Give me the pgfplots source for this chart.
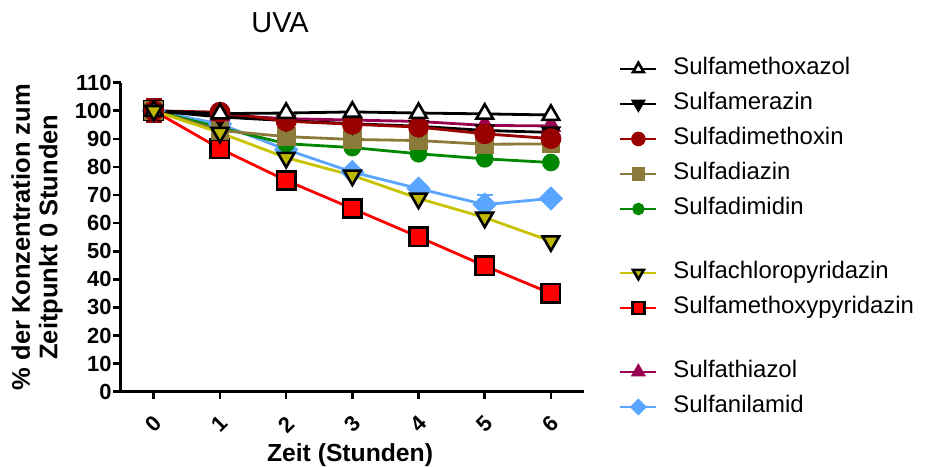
\documentclass[border=0pt]{standalone}
\usepackage{fontspec}
\setmainfont{Liberation Sans}
\usepackage{pgfplots}
\pgfplotsset{compat=1.18}
\usepackage{pgfplotstable}

\definecolor{dkred}{RGB}{153,0,0}
\definecolor{sdzolive}{RGB}{140,122,58}
\definecolor{sdmgreen}{RGB}{0,135,0}
\definecolor{scpline}{RGB}{200,195,0}
\definecolor{scpfill}{RGB}{190,185,0}
\definecolor{smpred}{RGB}{255,0,0}
\definecolor{stzpurple}{RGB}{153,0,80}
\definecolor{sanblue}{RGB}{90,165,255}

% x = Zeit (h), y = % der Ausgangskonzentration, e = Fehler
\pgfplotstableread{
x y e
0 100 0
1 99.0 0
2 99.2 0
3 99.6 0
4 99.2 0
5 98.9 0
6 98.5 0
}\tabSMX
\pgfplotstableread{
x y e
0 100 0
1 97.8 0
2 96.5 0
3 95.4 0
4 94.5 0
5 93.0 0
6 92.3 0
}\tabSMR
\pgfplotstableread{
x y e
0 100 4.0
1 99.5 0
2 96.3 0
3 95.2 0
4 94.2 0
5 91.8 0
6 90.1 0
}\tabSDM
\pgfplotstableread{
x y e
0 100 0
1 93.0 0
2 90.8 0
3 89.8 0
4 89.4 0
5 88.1 0
6 88.2 0
}\tabSDZ
\pgfplotstableread{
x y e
0 100 0
1 94.0 0
2 88.3 0
3 86.9 0
4 84.7 0
5 82.9 0
6 81.6 0
}\tabSMZ
\pgfplotstableread{
x y e
0 100 0
1 92.2 0
2 83.3 0
3 77.0 0
4 68.8 0
5 62.0 0
6 53.6 0
}\tabSCP
\pgfplotstableread{
x y e
0 100 0
1 86.5 0
2 75.2 0
3 65.2 0
4 55.1 0
5 44.8 0
6 35.0 0
}\tabSMP
\pgfplotstableread{
x y e
0 100 0
1 98.5 0
2 97.2 0
3 96.7 0
4 96.2 0
5 94.8 0
6 94.6 0
}\tabSTZ
\pgfplotstableread{
x y e
0 100 0
1 95.3 1.2
2 86.2 0
3 78.2 0
4 72.3 0
5 66.6 3.4
6 68.8 0
}\tabSAN

\pgfplotsset{
  series/.style={line width=1.4bp},
  sSMX/.style={series, black, mark=triangle*, mark size=4.8bp,
    mark options={fill=white, draw=black, line width=1.3bp}},
  sSMR/.style={series, black, mark=triangle*, mark size=4.6bp,
    mark options={rotate=180, fill=black, draw=black}},
  sSDM/.style={series, dkred, mark=*, mark size=4.5bp,
    mark options={fill=dkred, draw=dkred}},
  sSDZ/.style={series, sdzolive, mark=square*, mark size=4bp,
    mark options={fill=sdzolive, draw=sdzolive}},
  sSMZ/.style={series, sdmgreen, mark=*, mark size=3.7bp,
    mark options={fill=sdmgreen, draw=sdmgreen}},
  sSCP/.style={series, scpline, mark=triangle*, mark size=4.8bp,
    mark options={rotate=180, fill=scpfill, draw=black, line width=1.3bp}},
  sSMP/.style={series, smpred, mark=square*, mark size=4.6bp,
    mark options={fill=smpred, draw=black, line width=1.3bp}},
  sSTZ/.style={series, stzpurple, mark=triangle*, mark size=4.6bp,
    mark options={fill=stzpurple, draw=stzpurple}},
  sSAN/.style={series, sanblue, mark=square*, mark size=3.6bp,
    mark options={rotate=45, fill=sanblue, draw=sanblue}},
  errs/.style={
    /pgfplots/error bars/y dir=both,
    /pgfplots/error bars/y explicit,
    /pgfplots/error bars/error bar style={line width=1.4bp},
    /pgfplots/error bars/error mark options={rotate=90, mark size=4bp, line width=1.4bp}},
}

\begin{document}
\begin{tikzpicture}
\useasboundingbox (-60.35bp,-38.15bp) rectangle (402.65bp,195.85bp);
\begin{axis}[
  at={(0,0)}, anchor=south west,
  scale only axis, width=231.65bp, height=154.5bp,
  xmin=-0.5, xmax=6.5, ymin=0, ymax=110,
  axis x line*=bottom, axis y line*=left,
  axis line style={line width=1.5bp, black},
  xtick={0,...,6}, ytick={0,10,...,110},
  tick align=outside, major tick length=3.8bp,
  tick style={line width=1.3bp, black},
  /pgf/number format/assume math mode=true,
  ticklabel style={font=\fontsize{11}{12}\selectfont\bfseries},
  yticklabel style={inner sep=0.6bp},
  xticklabel style={anchor=center, yshift=-12.5bp, rotate=45},
  xlabel={Zeit (Stunden)},
  xlabel style={font=\fontsize{12.4}{14}\selectfont\bfseries,
    at={(axis description cs:0.495,0)}, anchor=center, yshift=-31.9bp},
  ylabel={\% der Konzentration zum\\Zeitpunkt 0 Stunden},
  ylabel style={font=\fontsize{12.8}{13.75}\selectfont\bfseries,
    align=center, at={(axis description cs:-0.1807,0.5)}, anchor=center},
  legend cell align=left,
  legend style={at={(axis description cs:1.0755,1.0832)}, anchor=north west,
    draw=none, fill=none, inner sep=0pt, outer sep=0pt,
    row sep=5.5bp, column sep=7.85bp,
    font=\fontsize{12}{14}\selectfont,
    nodes={inner sep=0pt, text height=9bp, text depth=3bp}},
  legend image code/.code={
    \draw[mark repeat=2, mark phase=2, every mark/.append style={scale=0.65}, #1]
      plot coordinates {(0bp,0bp) (9bp,0bp) (18bp,0bp)};},
  clip=false,
]
% legend entries, in the order listed
\addlegendimage{sSMX}\addlegendentry{Sulfamethoxazol}
\addlegendimage{sSMR}\addlegendentry{Sulfamerazin}
\addlegendimage{sSDM}\addlegendentry{Sulfadimethoxin}
\addlegendimage{sSDZ}\addlegendentry{Sulfadiazin}
\addlegendimage{sSMZ}\addlegendentry{Sulfadimidin}
\addlegendimage{empty legend}\addlegendentry[text height=9bp, text depth=0bp]{}
\addlegendimage{sSCP}\addlegendentry{Sulfachloropyridazin}
\addlegendimage{sSMP}\addlegendentry{Sulfamethoxypyridazin}
\addlegendimage{empty legend}\addlegendentry[text height=9bp, text depth=0bp]{}
\addlegendimage{sSTZ}\addlegendentry{Sulfathiazol}
\addlegendimage{sSAN}\addlegendentry{Sulfanilamid}

% curves, back to front
\addplot[sSAN, forget plot, errs] table[x=x, y=y, y error=e] {\tabSAN};
\addplot[sSMP, forget plot] table[x=x, y=y] {\tabSMP};
\addplot[sSMZ, forget plot] table[x=x, y=y] {\tabSMZ};
\addplot[sSDZ, forget plot] table[x=x, y=y] {\tabSDZ};
\addplot[sSTZ, forget plot] table[x=x, y=y] {\tabSTZ};
\addplot[sSMR, forget plot] table[x=x, y=y] {\tabSMR};
\addplot[sSDM, forget plot, errs] table[x=x, y=y, y error=e] {\tabSDM};
\addplot[sSMX, forget plot] table[x=x, y=y] {\tabSMX};
\addplot[sSCP, forget plot] table[x=x, y=y] {\tabSCP};

\node[font=\fontsize{14.5}{16}\selectfont, anchor=center]
  at (rel axis cs:0.344,1.195) {UVA};
\end{axis}
\end{tikzpicture}
\end{document}
